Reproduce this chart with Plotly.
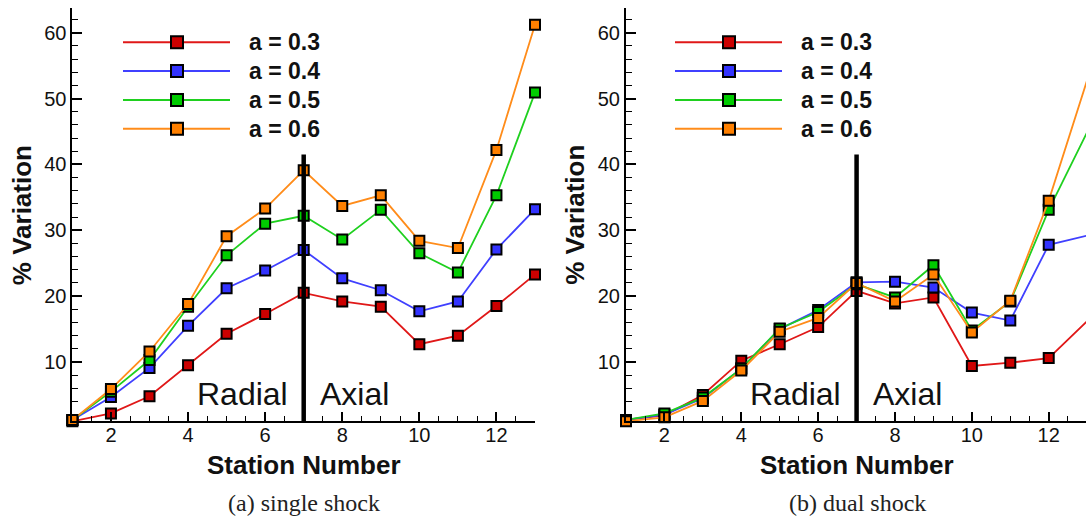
import plotly.graph_objects as go

# ---------------- data ----------------
stations = [1, 2, 3, 4, 5, 6, 7, 8, 9, 10, 11, 12, 13]
series_labels = ["a = 0.3", "a = 0.4", "a = 0.5", "a = 0.6"]

single_a03 = [1.0, 2.2, 4.8, 9.5, 14.3, 17.3, 20.5, 19.2, 18.4, 12.7, 14.0, 18.5, 23.3]
single_a04 = [1.2, 4.7, 9.1, 15.5, 21.2, 23.9, 27.0, 22.7, 20.9, 17.7, 19.2, 27.1, 33.2]
single_a05 = [1.2, 5.5, 10.3, 18.4, 26.2, 31.0, 32.2, 28.6, 33.1, 26.5, 23.6, 35.3, 50.9]
single_a06 = [1.2, 5.9, 11.6, 18.8, 29.1, 33.3, 39.1, 33.7, 35.3, 28.4, 27.3, 42.2, 61.2]

dual_a03 = [1.2, 1.9, 5.0, 10.2, 12.7, 15.3, 20.8, 18.9, 19.8, 9.4, 9.9, 10.6, 16.2]
dual_a04 = [1.2, 2.0, 4.5, 9.0, 15.0, 17.9, 22.1, 22.2, 21.3, 17.5, 16.3, 27.8, 29.2]
dual_a05 = [1.2, 2.2, 4.6, 9.0, 15.1, 17.6, 21.8, 19.8, 24.7, 14.8, 19.2, 33.1, 44.9]
dual_a06 = [1.0, 1.6, 4.1, 8.7, 14.6, 16.7, 22.0, 19.2, 23.3, 14.5, 19.3, 34.5, 52.8]

x_ticks = [2, 4, 6, 8, 10, 12]
y_ticks = [10, 20, 30, 40, 50, 60]
divider_station = 7
divider_top = 41.5

# ---------------- style ----------------
W, H = 1086, 519
marker_colors = ["#cc0000", "#3333ff", "#00cc00", "#ff8000"]
line_colors = ["#e01818", "#4040ff", "#1fd01f", "#ff8c1a"]
SANS = "Liberation Sans, Arial, Helvetica, sans-serif"
SERIF = "Liberation Serif, Times New Roman, serif"


def px(x):
    return x / W


def py(y):
    return 1 - y / H


fig = go.Figure()

panels = [
    ("x", "y", [single_a03, single_a04, single_a05, single_a06]),
    ("x2", "y2", [dual_a03, dual_a04, dual_a05, dual_a06]),
]
for xa, ya, data in panels:
    for i, vals in enumerate(data):
        fig.add_trace(go.Scatter(
            x=stations, y=vals, xaxis=xa, yaxis=ya, mode="lines+markers",
            name=series_labels[i], showlegend=False, cliponaxis=False,
            line=dict(color=line_colors[i], width=1.8),
            marker=dict(symbol="square", size=10, color=marker_colors[i],
                        line=dict(color="black", width=2)),
        ))

# plot geometry (pixels)
left_x0, left_x1 = 72.4, 535.0
right_x0, right_x1 = 626.0, 1086.0
plot_top, plot_bottom = 8.3, 421.3

axis_common = dict(
    showline=True, linewidth=2, linecolor="black", mirror=False,
    showgrid=False, zeroline=False, ticks="inside", tickcolor="black",
    tickwidth=1.5, tickfont=dict(family=SANS, size=20, color="#111"),
)
xcommon = dict(axis_common, tickvals=x_ticks, ticklen=9, ticklabelstandoff=-5,
               minor=dict(dtick=0.5, tick0=0, ticks="inside", ticklen=5,
                          tickcolor="black", tickwidth=1.2, showgrid=False))
ycommon = dict(axis_common, tickvals=y_ticks, ticklen=10, range=[1, 63.7],
               minor=dict(dtick=2, tick0=0, ticks="inside", ticklen=6,
                          tickcolor="black", tickwidth=1.2, showgrid=False))

fig.update_layout(
    width=W, height=H, margin=dict(l=0, r=0, t=0, b=0),
    paper_bgcolor="white", plot_bgcolor="white", showlegend=False,
    xaxis=dict(xcommon, domain=[px(left_x0), px(left_x1)], range=[1, 13], anchor="y"),
    yaxis=dict(ycommon, domain=[py(plot_bottom), py(plot_top)], anchor="x"),
    xaxis2=dict(xcommon, domain=[px(right_x0), px(right_x1)], range=[1, 12.97], anchor="y2"),
    yaxis2=dict(ycommon, domain=[py(plot_bottom), py(plot_top)], anchor="x2"),
)

shapes = []
annotations = []

for (xref, yref, x0, x1, legend_x0, caption) in [
    ("x", "y", left_x0, left_x1, 123.0, "(a) single shock"),
    ("x2", "y2", right_x0, right_x1, 675.0, "(b) dual shock"),
]:
    # divider line between radial and axial stations
    shapes.append(dict(type="line", xref=xref, yref=yref,
                       x0=divider_station, x1=divider_station, y0=1, y1=divider_top,
                       line=dict(color="black", width=4.5), layer="above"))
    annotations.append(dict(xref=xref, yref=yref, x=divider_station, y=5.1,
                            text="Radial", showarrow=False, xanchor="right",
                            yanchor="middle", xshift=-14,
                            font=dict(family=SANS, size=32, color="#111")))
    annotations.append(dict(xref=xref, yref=yref, x=divider_station, y=5.1,
                            text="Axial", showarrow=False, xanchor="left",
                            yanchor="middle", xshift=14,
                            font=dict(family=SANS, size=32, color="#111")))
    # legend drawn as decoration
    line_len = 107.0
    mx = legend_x0 + 54
    for i, lab in enumerate(series_labels):
        ry = 42.3 + i * 28.8
        shapes.append(dict(type="line", xref="paper", yref="paper",
                           x0=px(legend_x0), x1=px(legend_x0 + line_len),
                           y0=py(ry), y1=py(ry),
                           line=dict(color=line_colors[i], width=2)))
        shapes.append(dict(type="rect", xref="paper", yref="paper",
                           x0=px(mx - 6), x1=px(mx + 6), y0=py(ry + 6), y1=py(ry - 6),
                           fillcolor=marker_colors[i], line=dict(color="black", width=2)))
        annotations.append(dict(xref="paper", yref="paper", x=px(legend_x0 + 124),
                                y=py(ry), text=lab, showarrow=False,
                                xanchor="left", yanchor="middle",
                                font=dict(family=SANS, size=23, color="#111", weight="bold")))
    # axis titles centered on the full panel width (x range 1..13)
    cx = (x0 + (x0 + 12 * 38.55)) / 2
    annotations.append(dict(xref="paper", yref="paper", x=px(cx), y=py(465),
                            text="Station Number", showarrow=False,
                            xanchor="center", yanchor="middle",
                            font=dict(family=SANS, size=26, color="#111", weight="bold")))
    annotations.append(dict(xref="paper", yref="paper", x=px(x0 - 51),
                            y=py((plot_top + plot_bottom) / 2),
                            text="% Variation", showarrow=False, textangle=-90,
                            xanchor="center", yanchor="middle",
                            font=dict(family=SANS, size=26, color="#111", weight="bold")))
    annotations.append(dict(xref="paper", yref="paper", x=px(cx), y=py(503),
                            text=caption, showarrow=False,
                            xanchor="center", yanchor="middle",
                            font=dict(family=SERIF, size=24, color="#222")))

fig.update_layout(shapes=shapes, annotations=annotations)
fig.write_html("out.html")
